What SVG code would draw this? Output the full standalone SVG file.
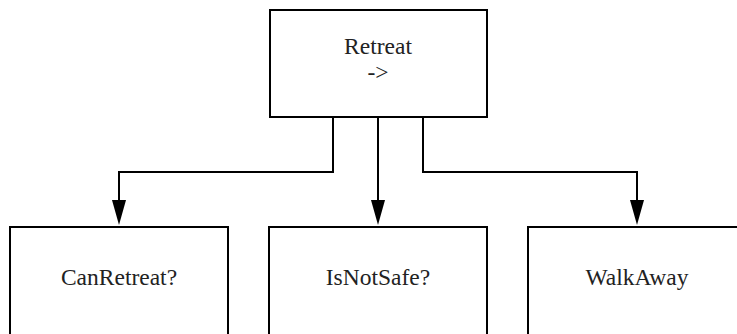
<svg xmlns="http://www.w3.org/2000/svg" width="737" height="334" viewBox="0 0 737 334">
<style>
.box{fill:#fff;stroke:#000;stroke-width:2}
.lbl{font-size:23.5px;fill:#222;text-anchor:middle}
.edge{fill:none;stroke:#000;stroke-width:2}
.head{fill:#000;stroke:none}
</style>
<rect width="737" height="334" fill="#fff"/>
<g id="connectors">
<path class="edge" d="M333,118 V172 H119 V205"/>
<polygon class="head" points="112,200 126,200 119,225"/>
<path class="edge" d="M378,118 V205"/>
<polygon class="head" points="371,200 385,200 378,225"/>
<path class="edge" d="M423,118 V172 H637 V205"/>
<polygon class="head" points="630,200 644,200 637,225"/>
</g>
<g id="retreat">
<rect class="box" x="270" y="10" width="217" height="107"/>
<text class="lbl" font-family="Liberation Serif, Times New Roman, serif" x="378" y="54">Retreat</text>
<text class="lbl" font-family="Liberation Serif, Times New Roman, serif" x="378" y="80">-&gt;</text>
</g>
<g id="canretreat">
<rect class="box" x="10" y="227" width="218" height="110"/>
<text class="lbl" font-family="Liberation Serif, Times New Roman, serif" x="119" y="285">CanRetreat?</text>
</g>
<g id="isnotsafe">
<rect class="box" x="269" y="227" width="218" height="110"/>
<text class="lbl" font-family="Liberation Serif, Times New Roman, serif" x="378" y="285">IsNotSafe?</text>
</g>
<g id="walkaway">
<rect class="box" x="528" y="227" width="218" height="110"/>
<text class="lbl" font-family="Liberation Serif, Times New Roman, serif" x="637" y="285">WalkAway</text>
</g>
</svg>
